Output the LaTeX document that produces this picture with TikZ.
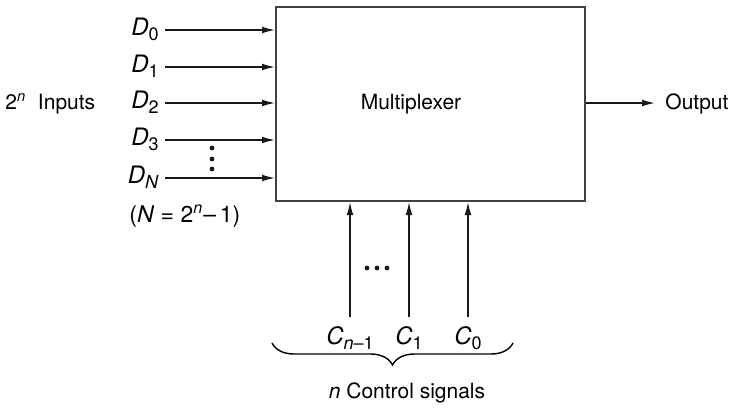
\documentclass[tikz,border=0pt]{standalone}
\usepackage{fontspec}
\setmainfont{TeX Gyre Heros}
\usetikzlibrary{arrows.meta, positioning, decorations.pathreplacing}
\newcommand{\sig}[2]{\textit{#1}\raisebox{-0.45ex}{\fontsize{9}{10}\selectfont #2}}

\begin{document}
\begin{tikzpicture}[x=0.5pt, y=-0.5pt,
  font=\fontsize{10.5}{12}\selectfont,
  blk/.style={rectangle,draw=black!75,line width=1pt,minimum width=154.5pt,minimum height=97pt,inner sep=0pt},
  arr/.style={-{Latex[length=6.5pt,width=3.4pt]},line width=0.7pt,black!90},
  sig/.style={anchor=mid east, inner sep=1pt, font=\fontsize{12}{14}\selectfont},
  txt/.style={inner sep=0pt},
  dot/.style={fill=black!90}
]
  \useasboundingbox (0,0) rectangle (732,407);
  \node[blk] (mux) at (430.5,104) {};
  \node[txt] (muxlbl) at (411,104) {Multiplexer};

  % data inputs
  \foreach \name/\lab/\y in {d0/0/30, d1/1/67, d2/2/103, d3/3/140, dn/\textit{N}/178}{
    \node[sig] (\name) at (161,\y) {\sig{D}{\lab}};
    \draw[arr] ([xshift=2pt]\name.mid east) -- (\name.mid east -| mux.west);
  }
  \foreach \y in {148,159,169}{\fill[dot] (212,\y) circle (1.2pt);}
  \node[txt, anchor=west] (inputs) at (5,104) {2\textsuperscript{\textit{n}}\ \ Inputs};
  \node[txt, anchor=west, font=\fontsize{11.5}{13}\selectfont] (nrel) at (129,216) {(\textit{N} = 2\textsuperscript{\textit{n}}\textendash\,1)};

  % output
  \node[txt, anchor=west] (out) at (665,104) {Output};
  \draw[arr] (mux.east |- 0,103) -- ([xshift=-5pt]out.west |- 0,103);

  % control inputs
  \node[font=\fontsize{12}{14}\selectfont] (cn) at (350,338) {\sig{C}{\textit{n}\textendash1}};
  \node[font=\fontsize{12}{14}\selectfont] (c1) at (409,338) {\sig{C}{1}};
  \node[font=\fontsize{12}{14}\selectfont] (c0) at (468,338) {\sig{C}{0}};
  \foreach \c in {cn,c1,c0}{\draw[arr] ([yshift=1pt]\c.north) -- (\c.north |- mux.south);}
  \foreach \x in {367,377,387}{\fill[dot] (\x,268) circle (1.2pt);}
  \draw[line width=0.7pt, decorate, decoration={brace, mirror, amplitude=11pt}] (272,343) -- (513,343);
  \node[txt] (ctrl) at (407,393) {\textit{n} Control signals};
\end{tikzpicture}
\end{document}
